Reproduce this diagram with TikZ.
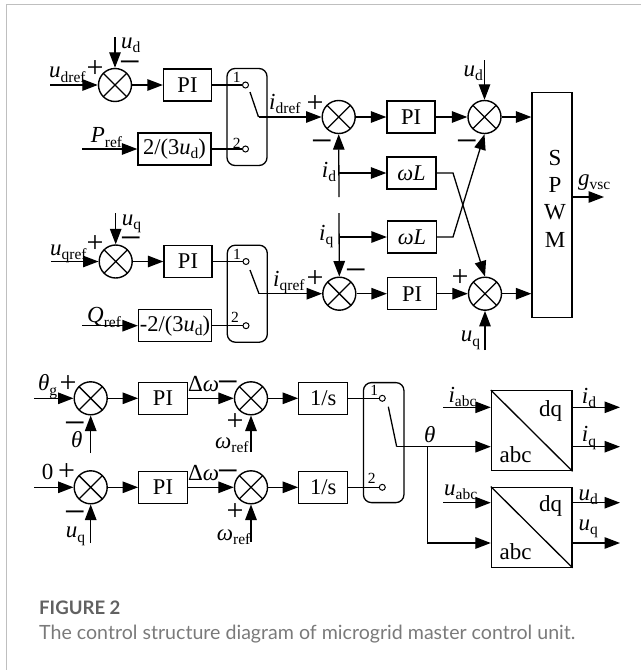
\documentclass[tikz,border=0pt]{standalone}
\usepackage{fontspec}
\setmainfont{Liberation Serif}
\newfontfamily\capfont{Lato}
\usetikzlibrary{arrows.meta}
\newcommand{\vv}[2]{\textit{#1}\raisebox{-0.2em}{\fontsize{15.5}{15.5}\selectfont #2}}
\tikzset{
  sumnode/.style={circle,draw,line width=1.4pt,minimum size=33pt,inner sep=0pt,
    path picture={\draw[line width=1.3pt] (path picture bounding box.north west)--(path picture bounding box.south east)
      (path picture bounding box.north east)--(path picture bounding box.south west);}},
  blk/.style={draw,line width=1.3pt,inner sep=0pt,font=\fontsize{22.5}{22.5}\selectfont},
  swbox/.style={draw,line width=1.3pt,rounded corners=8pt,inner sep=0pt},
  term/.style={circle,draw,line width=1pt,minimum size=6pt,inner sep=0pt,fill=white},
  lab/.style={anchor=base west,inner sep=0pt,font=\fontsize{23}{23}\selectfont},
  num/.style={inner sep=0pt,font=\fontsize{15.5}{15.5}\selectfont},
  plussign/.style={anchor=base,inner sep=0pt,yshift=-9.5pt,font=\fontsize{30}{30}\selectfont},
  minsign/.style={anchor=base,inner sep=0pt,yshift=-13pt,font=\fontsize{38}{38}\selectfont},
  conn/.style={line width=1.3pt,-{Triangle[length=15.5pt,width=11.5pt]}},
  wire/.style={line width=1.3pt},
  framel/.style={line width=1pt,color=black!25},
}
\begin{document}
\begin{tikzpicture}[x=1pt,y=-1pt]
\useasboundingbox (0,0) rectangle (641,670);
\coordinate (fa) at (6,670); \coordinate (fb) at (6,4); \coordinate (fc) at (641,4);
\draw[framel] (fa)--(fb)--(fc);
% ---- row d
\node[sumnode] (s1) at (115,85) {};
\node[blk,minimum width=48pt,minimum height=32pt] (pi1) at (187.5,85) {PI};
\node[swbox,minimum width=40pt,minimum height=97pt] (sw1) at (247,117) {};
\node[term] (t11) at (245.5,85) {};
\node[term] (t12) at (245.5,149) {};
\node[blk,minimum width=73pt,minimum height=32pt] (k1) at (174.5,149) {2/(3\vv{u}{d})};
\coordinate (c1) at (50,85); \coordinate (c2) at (115,37); \coordinate (c3) at (82,149);
\coordinate (b1a) at (250,92); \coordinate (b1b) at (258.5,117);
\node[sumnode] (s2) at (338.7,117) {};
\node[blk,minimum width=48pt,minimum height=32pt] (pi2) at (411,117) {PI};
\node[sumnode] (s3) at (484.5,117) {};
\node[blk,minimum width=40pt,minimum height=225pt] (spwm) at (552,205) {};
\node[inner sep=0pt,font=\fontsize{23}{23}\selectfont] (ls) at (555,158) {S};
\node[inner sep=0pt,font=\fontsize{23}{23}\selectfont] (lp) at (555,185) {P};
\node[inner sep=0pt,font=\fontsize{23}{23}\selectfont] (lw) at (555,212) {W};
\node[inner sep=0pt,font=\fontsize{23}{23}\selectfont] (lm) at (555,239.5) {M};
\node[blk,minimum width=49pt,minimum height=32pt] (wl1) at (411.5,173) {\textit{ωL}};
\node[blk,minimum width=49pt,minimum height=32pt] (wl2) at (412,237) {\textit{ωL}};
\coordinate (idt) at (339,197); \coordinate (idb) at (339,173);
\coordinate (iqt) at (339,213); \coordinate (iqb) at (339,237);
\coordinate (w1k) at (453,173); \coordinate (w2k) at (453,237);
\coordinate (c4) at (484.5,60); \coordinate (c5) at (485,350); \coordinate (c6) at (604,197);
% ---- row q
\node[sumnode] (s6) at (115.7,261.5) {};
\node[blk,minimum width=48pt,minimum height=32pt] (pi3) at (188,261.5) {PI};
\node[swbox,minimum width=40pt,minimum height=97pt] (sw2) at (247.3,293.7) {};
\node[term] (t21) at (246,261.5) {};
\node[term] (t22) at (246,325.7) {};
\node[blk,minimum width=73pt,minimum height=32pt] (k2) at (175,325.7) {-2/(3\vv{u}{d})};
\coordinate (c7) at (51,261.5); \coordinate (c8) at (115.7,213); \coordinate (c9) at (82,325.7);
\coordinate (b2a) at (250,270); \coordinate (b2b) at (259,293.7);
\node[sumnode] (s4) at (339.3,293.7) {};
\node[blk,minimum width=49pt,minimum height=32pt] (pi4) at (412,293.7) {PI};
\node[sumnode] (s5) at (485,293.7) {};
% ---- connectors top
\draw[conn] (c1)--(s1);
\draw[conn] (c2)--(s1.north);
\draw[conn] (s1)--(pi1);
\draw[wire] (pi1)--(t11);
\draw[conn] (c3)--(k1);
\draw[wire] (k1)--(t12);
\draw[wire] (b1a)--(b1b);
\draw[conn] (b1b)--(s2);
\draw[conn] (s2)--(pi2);
\draw[conn] (pi2)--(s3);
\draw[conn] (s3)--(spwm.west |- s3);
\draw[conn] (c4)--(s3.north);
\draw[conn] (idt)--(s2.south);
\draw[conn] (idb)--(wl1);
\draw[conn] (iqt)--(s4.north);
\draw[conn] (iqb)--(wl2);
\draw[conn] (wl1.east)--(w1k)--(s5.north);
\draw[conn] (wl2.east)--(w2k)--(s3.south);
\draw[conn] (c7)--(s6);
\draw[conn] (c8)--(s6.north);
\draw[conn] (s6)--(pi3);
\draw[wire] (pi3)--(t21);
\draw[conn] (c9)--(k2);
\draw[wire] (k2)--(t22);
\draw[wire] (b2a)--(b2b);
\draw[conn] (b2b)--(s4);
\draw[conn] (s4)--(pi4);
\draw[conn] (pi4)--(s5);
\draw[conn] (s5)--(spwm.west |- s5);
\draw[conn] (c5)--(s5.south);
\draw[conn] (spwm.east |- c6)--(c6);
% ---- bottom
\node[sumnode] (s7) at (90.7,398.3) {};
\node[blk,minimum width=48.5pt,minimum height=32pt] (pi5) at (163,398.3) {PI};
\node[sumnode] (s8) at (251,398.3) {};
\node[blk,minimum width=49pt,minimum height=32pt] (is1) at (323.3,398.3) {1/s};
\node[sumnode] (s9) at (90.7,487.3) {};
\node[blk,minimum width=48.5pt,minimum height=32pt] (pi6) at (163,487.3) {PI};
\node[sumnode] (s10) at (251,487.3) {};
\node[blk,minimum width=49pt,minimum height=32pt] (is2) at (323.3,487.3) {1/s};
\node[swbox,minimum width=40.5pt,minimum height=120pt] (sw3) at (383.7,442.6) {};
\node[term] (t31) at (382.3,398.3) {};
\node[term] (t32) at (382.3,487.3) {};
\coordinate (b3a) at (388.3,406.7); \coordinate (b3b) at (396.7,446.7);
\coordinate (j1) at (427.7,446.7); \coordinate (j2) at (427.7,543);
\node[blk,minimum width=80.5pt,minimum height=80pt] (dq1) at (531.7,430.7) {};
\node[blk,minimum width=80.5pt,minimum height=80pt] (dq2) at (531.7,527.2) {};
\coordinate (c10) at (34,398.3); \coordinate (c11) at (90.7,453);
\coordinate (c12) at (251,452); \coordinate (c13) at (34,487.3);
\coordinate (c14) at (90.7,543); \coordinate (c15) at (251,542);
\coordinate (c16) at (443.3,407.3); \coordinate (c17) at (443.3,502.7);
\coordinate (o1) at (620,407.3); \coordinate (o2) at (620,446.7);
\coordinate (o3) at (620,502.7); \coordinate (o4) at (620,543);
\draw[conn] (c10)--(s7);
\draw[conn] (c11)--(s7.south);
\draw[conn] (s7)--(pi5);
\draw[conn] (pi5)--(s8);
\draw[conn] (c12)--(s8.south);
\draw[conn] (s8)--(is1);
\draw[wire] (is1)--(t31);
\draw[conn] (c13)--(s9);
\draw[conn] (c14)--(s9.south);
\draw[conn] (s9)--(pi6);
\draw[conn] (pi6)--(s10);
\draw[conn] (c15)--(s10.south);
\draw[conn] (s10)--(is2);
\draw[wire] (is2)--(t32);
\draw[wire] (b3a)--(b3b);
\draw[conn] (b3b)--(dq1.west |- b3b);
\draw[conn] (j1)--(j2)--(dq2.west |- j2);
\draw[conn] (c16)--(dq1.west |- c16);
\draw[conn] (c17)--(dq2.west |- c17);
\draw[conn] (dq1.east |- o1)--(o1);
\draw[conn] (dq1.east |- o2)--(o2);
\draw[conn] (dq2.east |- o3)--(o3);
\draw[conn] (dq2.east |- o4)--(o4);
\draw[wire] (dq1.north west)--(dq1.south east);
\draw[wire] (dq2.north west)--(dq2.south east);
\node[inner sep=0pt,font=\fontsize{23}{23}\selectfont] (dq1a) at (550.7,410.7) {dq};
\node[inner sep=0pt,font=\fontsize{23}{23}\selectfont] (dq1b) at (515.7,455) {abc};
\node[inner sep=0pt,font=\fontsize{23}{23}\selectfont] (dq2a) at (550.7,506) {dq};
\node[inner sep=0pt,font=\fontsize{23}{23}\selectfont] (dq2b) at (515.7,552) {abc};
% ---- labels
\node[lab] (l1) at (49,77.7) {\vv{u}{dref}};
\node[lab] (l2) at (121,48) {\vv{u}{d}};
\node[plussign] (p1) at (95,68) {+};
\node[minsign] (m1) at (130.7,61) {−};
\node[lab] (l3) at (90.7,142.7) {\vv{P}{ref}};
\node[lab] (l4) at (269,109) {\vv{i}{dref}};
\node[num] (n1) at (236.7,77) {1};
\node[num] (n2) at (236.7,143) {2};
\node[plussign] (p2) at (315,102.7) {+};
\node[minsign] (m2) at (322.7,140.7) {−};
\node[lab] (l5) at (321.7,177.3) {\vv{i}{d}};
\node[minsign] (m3) at (467.7,140.7) {−};
\node[lab] (l6) at (463.5,76) {\vv{u}{d}};
\node[lab] (l7) at (319,240) {\vv{i}{q}};
\node[minsign] (m4) at (356,269.3) {−};
\node[plussign] (p3) at (315,278.3) {+};
\node[plussign] (p4) at (460,277.3) {+};
\node[lab] (l8) at (460.7,341.7) {\vv{u}{q}};
\node[lab] (l9) at (578,185) {\vv{g}{vsc}};
\node[lab] (l10) at (121.7,225) {\vv{u}{q}};
\node[minsign] (m5) at (131.7,237.3) {−};
\node[plussign] (p5) at (95,243.3) {+};
\node[lab] (l11) at (50,255) {\vv{u}{qref}};
\node[lab] (l12) at (87,322.7) {\vv{Q}{ref}};
\node[lab] (l13) at (273,286) {\vv{i}{qref}};
\node[num] (n3) at (237,254) {1};
\node[num] (n4) at (235,317) {2};
\node[lab] (l14) at (38,390.7) {\vv{θ}{g}};
\node[plussign] (p7) at (68,383.3) {+};
\node[minsign] (m6) at (75,422.7) {−};
\node[lab] (l15) at (71,447.3) {\textit{θ}};
\node[lab] (l16) at (188,391.7) {Δ\textit{ω}};
\node[minsign] (m7) at (228,381.7) {−};
\node[plussign] (p8) at (235,421) {+};
\node[lab] (l17) at (215,448.3) {\vv{ω}{ref}};
\node[lab] (l18) at (41.7,479) {0};
\node[plussign] (p9) at (66.7,470.7) {+};
\node[minsign] (m8) at (75,511.7) {−};
\node[lab] (l19) at (65.7,537.7) {\vv{u}{q}};
\node[lab] (l20) at (188,480) {Δ\textit{ω}};
\node[minsign] (m9) at (228,470.7) {−};
\node[plussign] (p10) at (235,511) {+};
\node[lab] (l21) at (216.7,540) {\vv{ω}{ref}};
\node[num] (n5) at (374.3,390.7) {1};
\node[num] (n6) at (371.7,478.3) {2};
\node[lab] (l22) at (424,442.3) {\textit{θ}};
\node[lab] (l23) at (448.3,402.3) {\vv{i}{abc}};
\node[lab] (l24) at (444,495) {\vv{u}{abc}};
\node[lab] (l25) at (581.7,403.3) {\vv{i}{d}};
\node[lab] (l26) at (581.7,441.7) {\vv{i}{q}};
\node[lab] (l27) at (578.3,500) {\vv{u}{d}};
\node[lab] (l28) at (578.3,530) {\vv{u}{q}};
% ---- caption
\node[anchor=base west,inner sep=0pt,text=black!62,font=\capfont\bfseries\fontsize{18.6}{18.6}\selectfont] (cap1) at (39,614) {FIGURE 2};
\node[anchor=base west,inner sep=0pt,text=black!52,font=\capfont\fontsize{19.6}{19.6}\selectfont] (cap2) at (39,639) {The control structure diagram of microgrid master control unit.};
\end{tikzpicture}
\end{document}
